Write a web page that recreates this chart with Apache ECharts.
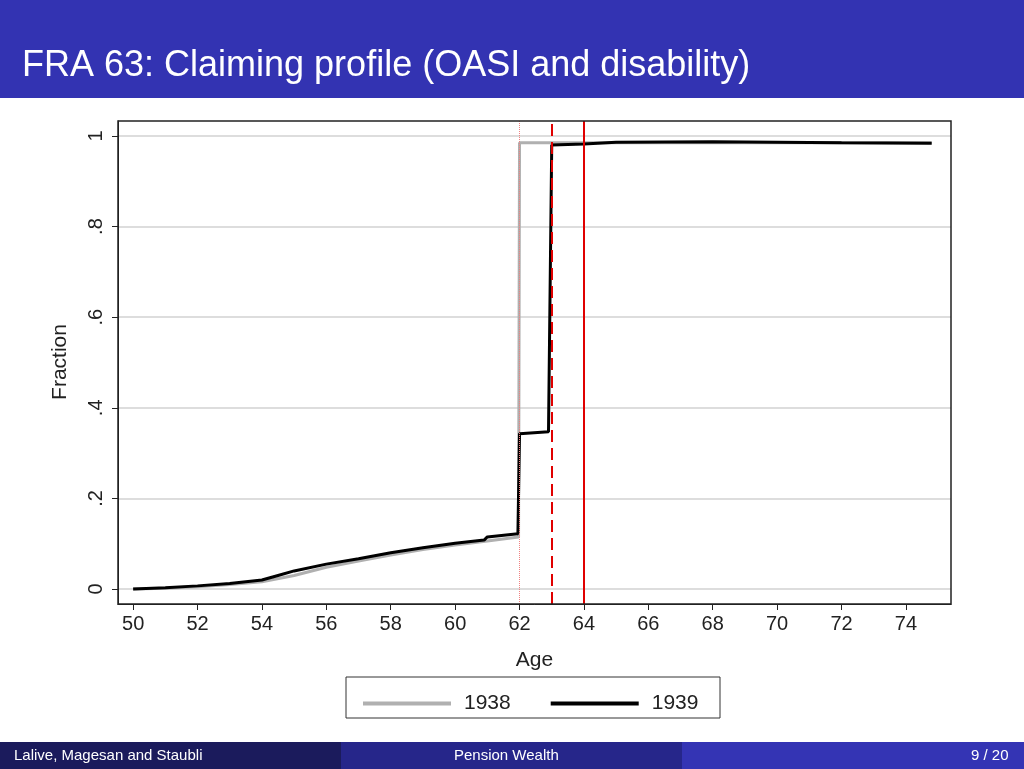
<!DOCTYPE html><html><head><meta charset="utf-8">
<script src="https://cdn.jsdelivr.net/npm/echarts@6/dist/echarts.min.js"></script>
<style>body{margin:0}#c{width:1024px;height:769px}</style></head><body><div id="c"></div>
<script>
const xTicks=[50,52,54,56,58,60,62,64,66,68,70,72,74];
const yTicks=[0,0.2,0.4,0.6,0.8,1];
const yTickLabels=['0','.2','.4','.6','.8','1'];
const s1938=[[50,0],[51,0.002],[52,0.005],[53,0.01],[54,0.016],[55,0.03],[56,0.048],[57,0.062],[58,0.075],[59,0.087],[60,0.097],[61,0.106],[61.97,0.115],[62,0.985],[74.8,0.985]];
const s1939=[[50,0],[51,0.003],[52,0.007],[53,0.012],[54,0.02],[54.5,0.03],[55,0.04],[56,0.055],[57,0.067],[58,0.08],[59,0.091],[60,0.101],[60.9,0.108],[61,0.115],[61.95,0.122],[62,0.343],[62.9,0.347],[63,0.98],[64,0.982],[65,0.986],[68,0.987],[72,0.985],[74.8,0.984]];
const vlines=[62,63,64];
const F='Liberation Sans';
function txt(x,y,t,size,extra){return Object.assign({type:'text',x:x,y:y,style:{text:t,fill:'#fff',fontSize:size,fontFamily:F,textVerticalAlign:'middle'}},extra||{});}
const chart=echarts.init(document.getElementById('c'));
chart.setOption({
 animation:false,
 graphic:[
  {type:'rect',shape:{x:0,y:0,width:1024,height:98},style:{fill:'#3333b2'}},
  txt(22,66,'FRA 63: Claiming profile (OASI and disability)',36),
  {type:'rect',shape:{x:0,y:742,width:341,height:27},style:{fill:'#1b1b5c'}},
  {type:'rect',shape:{x:341,y:742,width:341,height:27},style:{fill:'#26268a'}},
  {type:'rect',shape:{x:682,y:742,width:342,height:27},style:{fill:'#3434b4'}},
  txt(14,756,'Lalive, Magesan and Staubli',15),
  txt(454,756,'Pension Wealth',15),
  txt(971,756,'9 / 20',15),
  {type:'rect',z:-1,shape:{x:346,y:677,width:374,height:41},style:{fill:'#fff',stroke:'#333',lineWidth:1}},
  {type:'rect',z:10,shape:{x:118,y:121,width:833,height:483},style:{fill:'none',stroke:'#222',lineWidth:1.5}},
  {type:'text',x:60,y:362,rotation:Math.PI/2,style:{text:'Fraction',fill:'#222',fontSize:21,fontFamily:F,textAlign:'center',textVerticalAlign:'middle'}}
 ],
 legend:{left:358,top:688,itemWidth:88,itemHeight:4,itemGap:40,textStyle:{fontSize:21,color:'#222',fontFamily:F,padding:[0,0,0,8]},icon:'rect',data:['1938','1939']},
 grid:{left:118,right:73,top:121,height:483},
 xAxis:{type:'value',min:49.53,max:75.4,splitLine:{show:false},name:'Age',nameLocation:'middle',nameGap:46,nameTextStyle:{fontSize:21,color:'#222',fontFamily:F},
  axisLine:{onZero:false,lineStyle:{color:'#222'}},
  axisTick:{customValues:xTicks,length:6,lineStyle:{color:'#222'}},
  axisLabel:{customValues:xTicks,fontSize:20,color:'#222',margin:10,fontFamily:F}},
 yAxis:{type:'value',min:-0.033,max:1.033,
  axisLine:{show:true,lineStyle:{color:'#222'}},
  axisTick:{show:true,customValues:yTicks,length:6,lineStyle:{color:'#222'}},
  axisLabel:{customValues:yTicks,rotate:90,fontSize:20,color:'#222',margin:12,fontFamily:F,formatter:v=>yTickLabels[yTicks.findIndex(t=>Math.abs(t-v)<1e-6)]??''},
  splitLine:{show:true,customValues:yTicks,lineStyle:{color:'#ddd',width:2}}},
 series:[
  {name:'1938',type:'line',data:s1938,showSymbol:false,lineStyle:{color:'#b0b0b0',width:3},itemStyle:{color:'#b0b0b0'},
   markLine:{silent:true,symbol:'none',label:{show:false},data:[
    {xAxis:vlines[0],lineStyle:{color:'#f08080',type:'dotted',width:1}},
    {xAxis:vlines[1],lineStyle:{color:'#e00000',type:[12,6],width:2}},
    {xAxis:vlines[2],lineStyle:{color:'#e00000',type:'solid',width:2}}]}},
  {name:'1939',type:'line',data:s1939,showSymbol:false,lineStyle:{color:'#000',width:3},itemStyle:{color:'#000'}}
 ]
});
</script></body></html>
